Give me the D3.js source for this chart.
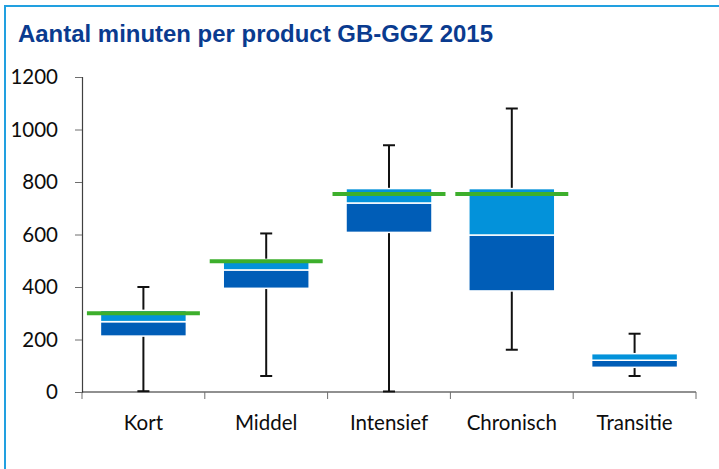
<!DOCTYPE html>
<html>
<head>
<meta charset="utf-8">
<script src="https://cdn.jsdelivr.net/npm/d3@7"></script>
<style>
  body { margin: 0; background: #fff; }
  svg { display: block; }
</style>
</head>
<body>
<svg id="chart" width="719" height="469"></svg>
<script>
// box plot per product: min, Q1, median, Q3, max, norm (green line)
const categories = ["Kort", "Middel", "Intensief", "Chronisch", "Transitie"];
const minVals    = [3, 61, 2, 161, 61];
const q1Vals     = [213, 395, 608, 385, 94];
const medianVals = [268, 465, 720, 598, 121];
const q3Vals     = [311, 505, 775, 775, 146];
const maxVals    = [400, 604, 940, 1080, 222];
const normVals   = [300, 498, 754, 754, null];
const yTicks     = [0, 200, 400, 600, 800, 1000, 1200];

const rows = categories.map((c, i) => ({
    cat: c, min: minVals[i], q1: q1Vals[i], med: medianVals[i],
    q3: q3Vals[i], max: maxVals[i], norm: normVals[i]
}));

const svg = d3.select("#chart");
const plotLeft = 82, plotRight = 696, plotTop = 77, plotBottom = 392;

const darkBlue = "#005db7", lightBlue = "#0392da", green = "#3daf2c";

// frame
svg.append("rect")
    .attr("x", 5).attr("y", 6)
    .attr("width", 740).attr("height", 480)
    .attr("fill", "none")
    .attr("stroke", "#22a0e0")
    .attr("stroke-width", 2);

svg.append("text")
    .attr("x", 18).attr("y", 42)
    .attr("font-family", "Liberation Sans, Arial, sans-serif")
    .attr("font-weight", "bold")
    .attr("font-size", 23.5)
    .attr("textLength", 475)
    .attr("lengthAdjust", "spacingAndGlyphs")
    .attr("fill", "#0a3b8f")
    .text("Aantal minuten per product GB-GGZ 2015");

const x = d3.scaleBand().domain(categories).range([plotLeft, plotRight]).padding(0);
const y = d3.scaleLinear().domain([0, 1200]).range([plotBottom, plotTop]);

// y axis
const yAxis = svg.append("g")
    .attr("transform", `translate(${plotLeft},0)`)
    .call(d3.axisLeft(y).tickValues(yTicks).tickSize(7).tickFormat(d3.format("d")));
yAxis.select(".domain").attr("stroke", "#404040").attr("stroke-width", 1.2);
yAxis.selectAll(".tick line").attr("stroke", "#6e6e6e");
yAxis.selectAll("text")
    .attr("font-family", "Lato, sans-serif")
    .attr("font-size", 20.5)
    .attr("fill", "#0d0d0d")
    .attr("text-anchor", "end")
    .attr("x", -24);

// x axis with ticks at category boundaries
const xAxisG = svg.append("g").attr("transform", `translate(0,${plotBottom})`);
xAxisG.append("line")
    .attr("x1", plotLeft).attr("x2", plotRight)
    .attr("stroke", "#222").attr("stroke-width", 1.2);
const bounds = categories.map(c => x(c)).concat([plotRight]);
xAxisG.selectAll("line.tk").data(bounds).join("line")
    .attr("class", "tk")
    .attr("x1", d => d).attr("x2", d => d)
    .attr("y1", 0).attr("y2", 7)
    .attr("stroke", "#6e6e6e");
xAxisG.selectAll("text").data(categories).join("text")
    .attr("x", d => x(d) + x.bandwidth() / 2)
    .attr("y", 38)
    .attr("text-anchor", "middle")
    .attr("font-family", "Lato, sans-serif")
    .attr("font-size", 20.5)
    .attr("fill", "#0d0d0d")
    .text(d => d);

const boxW = x.bandwidth() * 0.7;
const capW = 12;
const normW = x.bandwidth() * 0.92;

const g = svg.append("g");
const box = g.selectAll("g.box").data(rows).join("g").attr("class", "box")
    .attr("transform", d => `translate(${x(d.cat) + x.bandwidth() / 2},0)`);

// whiskers
box.append("line")
    .attr("x1", 0).attr("x2", 0)
    .attr("y1", d => y(d.min)).attr("y2", d => y(d.max))
    .attr("stroke", "#111").attr("stroke-width", 2);
box.append("line")
    .attr("x1", -capW / 2).attr("x2", capW / 2)
    .attr("y1", d => y(d.max)).attr("y2", d => y(d.max))
    .attr("stroke", "#111").attr("stroke-width", 2);
box.append("line")
    .attr("x1", -capW / 2).attr("x2", capW / 2)
    .attr("y1", d => y(d.min)).attr("y2", d => y(d.min))
    .attr("stroke", "#111").attr("stroke-width", 2);

// lower box (Q1 - median)
box.append("rect")
    .attr("x", -boxW / 2).attr("width", boxW)
    .attr("y", d => y(d.med)).attr("height", d => y(d.q1) - y(d.med))
    .attr("fill", darkBlue)
    .attr("stroke", "#fff").attr("stroke-width", 1.5);
// upper box (median - Q3)
box.append("rect")
    .attr("x", -boxW / 2).attr("width", boxW)
    .attr("y", d => y(d.q3)).attr("height", d => y(d.med) - y(d.q3))
    .attr("fill", lightBlue)
    .attr("stroke", "#fff").attr("stroke-width", 1.5);

// norm line
box.filter(d => d.norm != null).append("line")
    .attr("x1", -normW / 2).attr("x2", normW / 2)
    .attr("y1", d => y(d.norm)).attr("y2", d => y(d.norm))
    .attr("stroke", green).attr("stroke-width", 4);
</script>
</body>
</html>
